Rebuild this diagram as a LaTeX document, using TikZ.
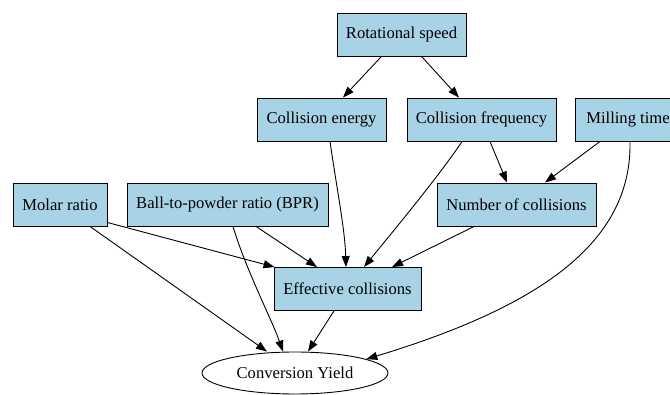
\documentclass[tikz,border=0pt]{standalone}
\usepackage{fontspec}
\setmainfont{Liberation Serif}
\usetikzlibrary{arrows.meta,shapes.geometric}
\definecolor{boxblue}{RGB}{168,210,229}
\tikzset{
  box/.style={draw=black, fill=boxblue, line width=0.9pt, inner sep=0pt, minimum height=43pt,
    font=\fontsize{16.6}{19}\selectfont},
  oval/.style={draw=black, fill=white, ellipse, line width=0.9pt, inner sep=0pt,
    minimum width=186pt, minimum height=42pt, font=\fontsize{16.6}{19}\selectfont},
  edge/.style={draw=black, line width=0.9pt, -{Triangle[length=11pt,width=8pt]}}
}
\begin{document}
\begin{tikzpicture}[x=1pt,y=-1pt]
\useasboundingbox (0,0) rectangle (670,395);
\clip (0,0) rectangle (670,395);
\node[box, minimum width=129pt] (rot) at (401.5,35) {Rotational speed};
\node[box, minimum width=129pt] (ce) at (321.5,119.5) {Collision energy};
\node[box, minimum width=149pt] (cf) at (481.5,119.5) {Collision frequency};
\node[box, minimum width=106pt] (mt) at (628,119.5) {Milling time};
\node[box, minimum width=94pt] (mr) at (60,204.5) {Molar ratio};
\node[box, minimum width=201pt] (bpr) at (227.5,204.5) {Ball-to-powder ratio (BPR)};
\node[box, minimum width=159pt] (nc) at (516.5,204.5) {Number of collisions};
\node[box, minimum width=147pt] (ec) at (347.5,289) {Effective collisions};
\node[oval] (cy) at (295,373) {Conversion Yield};

\draw[edge] ([xshift=-20.5pt]rot.south) -- ([xshift=21.5pt]ce.north);
\draw[edge] ([xshift=20.5pt]rot.south) -- ([xshift=-22.5pt]cf.north);
\draw[edge] ([xshift=8.5pt]ce.south) .. controls (337,190) and (345,230) .. ([xshift=-1.5pt]ec.north);
\draw[edge] ([xshift=-19.5pt]cf.south) .. controls (440,175) and (390,235) .. ([xshift=16.5pt]ec.north);
\draw[edge] ([xshift=8.5pt]cf.south) -- ([xshift=-9.5pt]nc.north);
\draw[edge] ([xshift=-28pt]mt.south) -- ([xshift=28.5pt]nc.north);
\draw[edge] ([xshift=2pt]mt.south) .. controls (632,240) and (545,305) .. (cy.11);
\draw[edge] ([yshift=-18pt]mr.east) -- ([xshift=1pt]ec.north west);
\draw[edge] ([xshift=30pt]mr.south) -- ([xshift=-28pt]cy.north);
\draw[edge] ([xshift=28.5pt]bpr.south) -- ([xshift=-30.5pt]ec.north);
\draw[edge] ([xshift=5.5pt]bpr.south) .. controls (246,270) and (272,320) .. ([xshift=-12pt]cy.north);
\draw[edge] ([xshift=-42.5pt]nc.south) -- ([xshift=44.5pt]ec.north);
\draw[edge] ([xshift=-13.5pt]ec.south) -- ([xshift=13pt]cy.north);
\end{tikzpicture}
\end{document}
